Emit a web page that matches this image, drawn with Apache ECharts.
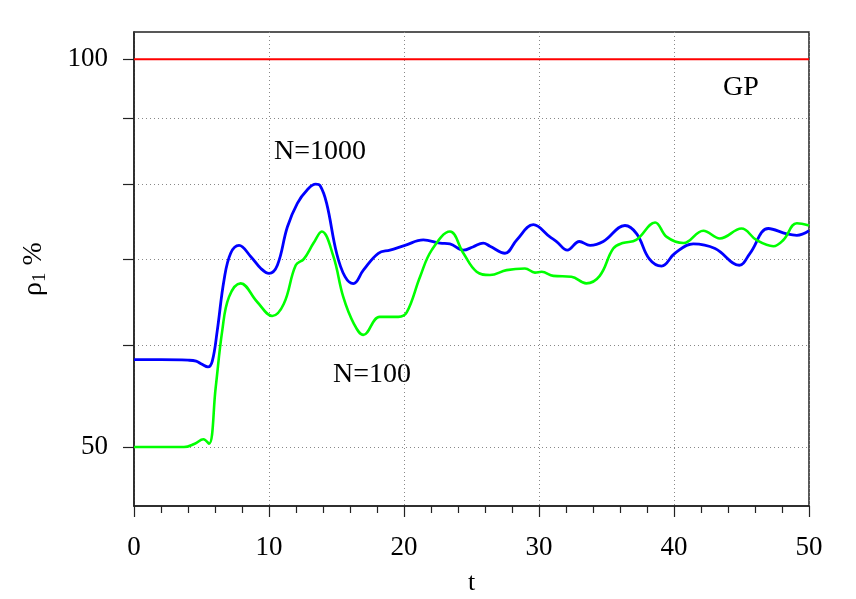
<!DOCTYPE html>
<html>
<head>
<meta charset="utf-8">
<script src="https://cdn.jsdelivr.net/npm/echarts@6/dist/echarts.min.js"></script>
<style>
  html, body { margin: 0; background: #fff; }
  #chart { width: 856px; height: 599px; }
</style>
</head>
<body>
<div id="chart"></div>
<script>
// N=1000 run (blue)
const tBlue = [0, 2, 4, 4.6, 5.0, 5.48, 5.8, 6.17, 6.67, 7.16, 7.78, 8.64, 9.4, 10.0, 10.62, 11.36, 12.1, 12.84, 13.46, 13.78,
  14.27, 15.01, 15.63, 16.25, 16.99, 18.1, 18.96, 20.07, 21.43, 22.67, 23.4, 24.4, 25.1, 25.87, 26.37, 27.48, 28.35, 29.58,
  30.81, 31.3, 32.1, 32.99, 33.78, 34.76, 36.37, 37.24, 38.17, 39.08, 40.07, 41.43, 43.04, 44.84, 45.63, 46.99, 48.35, 49.1, 50];
const rhoBlue = [58.45, 58.45, 58.4, 58.3, 58.0, 57.7, 58.3, 61.6, 67.4, 70.7, 71.7, 70.3, 68.8, 68.2, 69.2, 74.1, 77.3, 79.2, 80.0, 79.8,
  77.3, 70.7, 67.8, 66.97, 68.6, 70.7, 71.1, 71.7, 72.4, 72.0, 71.9, 71.1, 71.5, 72.0, 71.6, 70.7, 72.4, 74.4,
  72.8, 72.2, 71.1, 72.2, 71.7, 72.2, 74.3, 73.2, 70.0, 69.1, 70.7, 71.9, 71.3, 69.2, 70.7, 73.9, 73.2, 73.0, 73.6];

// N=100 run (green)
const tGreen = [0, 2, 3.7, 4.5, 5.14, 5.56, 6.05, 6.54, 7.04, 7.9, 9.13, 10.24, 11.1, 11.98, 12.59, 13.3, 13.91, 14.77, 15.5, 16.3,
  16.99, 18.2, 19.58, 20.2, 21.19, 22.05, 23.41, 24.4, 25.38, 26.37, 27.6, 28.96, 29.7, 30.2, 31.06, 32.4, 33.5, 34.5,
  35.5, 36.2, 37.2, 38.6, 39.46, 40.7, 42.17, 43.4, 45.0, 46.1, 47.36, 48.1, 49.1, 50];
const rhoGreen = [50.0, 50.0, 50.0, 50.3, 50.7, 50.3, 55.6, 61.6, 65.4, 67.0, 64.8, 63.2, 64.6, 69.2, 70.0, 72.0, 73.5, 70.3, 65.4, 62.3,
  61.1, 63.1, 63.1, 63.6, 67.8, 71.1, 73.5, 70.7, 68.4, 68.0, 68.6, 68.8, 68.3, 68.4, 67.9, 67.8, 67.0, 67.9,
  71.3, 72.0, 72.4, 74.7, 72.8, 72.0, 73.6, 72.6, 73.9, 72.4, 71.6, 72.4, 74.6, 74.3];

// GP reference level
const tGP = [0, 50];
const rhoGP = [100, 100];

const yTicks = [50, 60, 70, 80, 90, 100];
const yLabels = [50, 100];

const pairs = (xs, ys) => xs.map((x, i) => [x, ys[i]]);

const chart = echarts.init(document.getElementById('chart'));
const serif = '"Liberation Serif", "DejaVu Serif", serif';

chart.setOption({
  backgroundColor: '#fff',
  animation: false,
  grid: {
    left: 134, right: 47, top: 32, bottom: 93,
    outerBoundsMode: 'none', containLabel: false,
    show: true, borderColor: '#222', borderWidth: 1.5
  },
  xAxis: {
    type: 'value',
    min: 0,
    max: 50,
    interval: 10,
    name: 't',
    nameLocation: 'middle',
    nameGap: 64,
    nameTextStyle: { fontFamily: serif, fontSize: 26, color: '#000' },
    axisLine: { lineStyle: { color: '#222', width: 1.5 } },
    axisTick: { length: 11, lineStyle: { color: '#222', width: 1.2 } },
    minorTick: { show: true, splitNumber: 5, length: 7, lineStyle: { color: '#222', width: 1.2 } },
    axisLabel: { fontFamily: serif, fontSize: 27, color: '#000', margin: 28 },
    splitLine: { show: true, lineStyle: { type: [1, 3], color: '#888', width: 1 } }
  },
  yAxis: {
    type: 'log',
    logBase: 10,
    min: 45,
    max: 105,
    name: '{r|ρ}{s|1}{r| %}',
    nameLocation: 'middle',
    nameRotate: 90,
    nameGap: 84,
    nameTextStyle: {
      rich: {
        r: { fontFamily: serif, fontSize: 28, color: '#000' },
        s: { fontFamily: serif, fontSize: 19, color: '#000', padding: [14, 0, 0, 0] }
      }
    },
    axisLine: { show: true, lineStyle: { color: '#222', width: 1.5 } },
    axisTick: { show: true, length: 11, customValues: yTicks, lineStyle: { color: '#222', width: 1.2 } },
    axisLabel: { fontFamily: serif, fontSize: 27, color: '#000', margin: 26, customValues: yLabels },
    splitLine: { show: true, lineStyle: { type: [1, 3], color: '#888', width: 1 } }
  },
  series: [
    {
      name: 'GP', type: 'line', data: pairs(tGP, rhoGP), showSymbol: false,
      lineStyle: { color: '#ff0000', width: 2 }
    },
    {
      name: 'N=1000', type: 'line', data: pairs(tBlue, rhoBlue), smooth: 0.4, showSymbol: false,
      lineStyle: { color: '#0000ff', width: 2.8 }
    },
    {
      name: 'N=100', type: 'line', data: pairs(tGreen, rhoGreen), smooth: 0.4, showSymbol: false,
      lineStyle: { color: '#00ff00', width: 2.6 }
    }
  ],
  graphic: [
    { type: 'text', left: 274, top: 138, style: { text: 'N=1000', font: '28px ' + serif, fill: '#000' } },
    { type: 'text', left: 333, top: 361, style: { text: 'N=100', font: '28px ' + serif, fill: '#000' } },
    { type: 'text', left: 723, top: 74, style: { text: 'GP', font: '28px ' + serif, fill: '#000' } }
  ]
});
</script>
</body>
</html>
